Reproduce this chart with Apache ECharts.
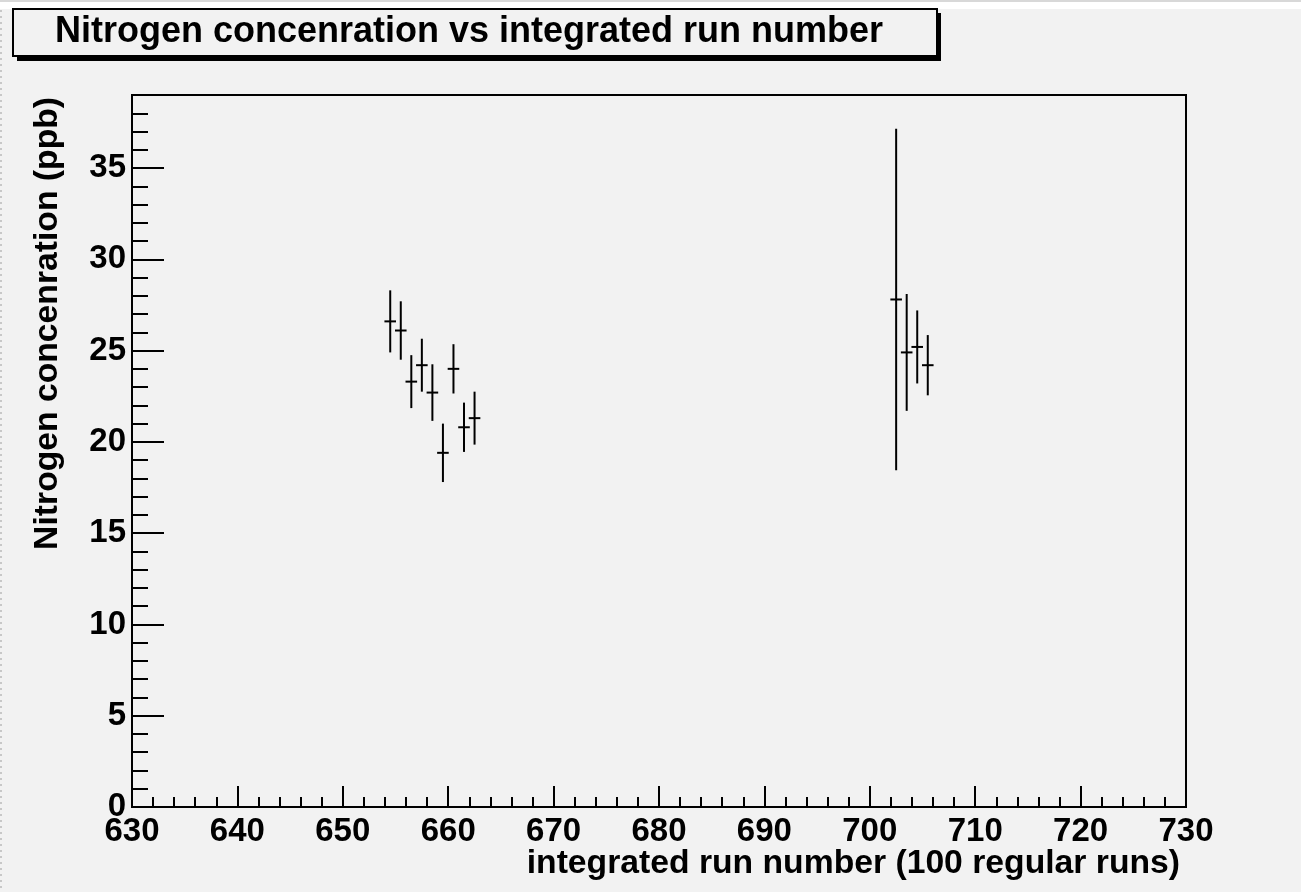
<!DOCTYPE html>
<html>
<head>
<meta charset="utf-8">
<script src="https://cdn.jsdelivr.net/npm/echarts@6/dist/echarts.min.js"></script>
<style>
  html, body { margin: 0; padding: 0; background: #f2f2f2; }
  #chart { width: 1301px; height: 892px; }
</style>
</head>
<body>
<div id="chart"></div>
<script>
// ---- data ----
const chartTitle = 'Nitrogen concenration vs integrated run number';
const xTitle = 'integrated run number (100 regular runs)';
const yTitle = 'Nitrogen concenration (ppb)';

const runNumbers = [654.5, 655.5, 656.5, 657.5, 658.5, 659.5, 660.5, 661.5, 662.5,
                    702.5, 703.5, 704.5, 705.5];
const concentrations = [26.6, 26.1, 23.3, 24.2, 22.7, 19.4, 24.0, 20.8, 21.3,
                        27.8, 24.9, 25.2, 24.2];
const concErrors = [1.7, 1.6, 1.45, 1.45, 1.55, 1.6, 1.35, 1.35, 1.45,
                    9.35, 3.2, 2.0, 1.65];
const runErrors = [0.55, 0.55, 0.55, 0.55, 0.55, 0.55, 0.55, 0.55, 0.55,
                   0.55, 0.55, 0.55, 0.55];

const xMin = 630, xMax = 730, xStep = 10;
const yMin = 0, yMax = 39, yStep = 5, yMinorStep = 1;
const yMajorTicks = [0, 5, 10, 15, 20, 25, 30, 35];

// ---- chart ----
const FONT = '"Liberation Sans", Arial, Helvetica, sans-serif';
const chart = echarts.init(document.getElementById('chart'), null, { renderer: 'canvas' });

const seriesData = runNumbers.map((x, i) => [x, concentrations[i], concErrors[i], runErrors[i]]);

const option = {
  backgroundColor: '#f2f2f2',
  animation: false,
  grid: {
    left: 132, right: 115, top: 95, bottom: 85,
    show: true, borderColor: '#000', borderWidth: 2, backgroundColor: 'transparent'
  },
  xAxis: [{
    type: 'value', min: xMin, max: xMax, interval: xStep, position: 'bottom',
    axisLine: { show: true, onZero: false, lineStyle: { color: '#000', width: 2 } },
    axisTick: { show: true, inside: true, length: 21, lineStyle: { color: '#000', width: 2 } },
    minorTick: { show: true, splitNumber: 5, length: 10, lineStyle: { color: '#000', width: 2 } },
    axisLabel: { show: true, margin: 8, color: '#000', fontFamily: FONT, fontWeight: 'bold', fontSize: 33 },
    splitLine: { show: false }
  }],
  yAxis: [{
    type: 'value', min: yMin, max: yMax, interval: yMinorStep, position: 'left',
    axisLine: { show: true, onZero: false, lineStyle: { color: '#000', width: 2 } },
    axisTick: { show: true, inside: true, length: 16, lineStyle: { color: '#000', width: 2 } },
    axisLabel: { show: false },
    splitLine: { show: false }
  }, {
    type: 'value', min: yMin, max: yMax, interval: yStep, position: 'left',
    axisLine: { show: false, onZero: false },
    axisTick: { show: true, inside: true, length: 32, customValues: yMajorTicks,
                lineStyle: { color: '#000', width: 2 } },
    axisLabel: { show: true, margin: 6, customValues: yMajorTicks,
                 color: '#000', fontFamily: FONT, fontWeight: 'bold', fontSize: 33 },
    splitLine: { show: false }
  }],
  graphic: [
    { type: 'rect', shape: { x: 0, y: 0, width: 1301, height: 2 }, style: { fill: '#d8d8d8' }, silent: true },
    { type: 'rect', shape: { x: 0, y: 2, width: 1301, height: 7 }, style: { fill: '#ffffff' }, silent: true },
    { type: 'line', shape: { x1: 1, y1: 10, x2: 1, y2: 892 }, style: { stroke: '#c8c8c8', lineWidth: 2, lineDash: [2, 4] }, silent: true },
    // title box shadow
    { type: 'rect', shape: { x: 17, y: 13, width: 924, height: 48 }, style: { fill: '#000' }, silent: true },
    // title box
    { type: 'rect', shape: { x: 13, y: 9, width: 924, height: 47 }, style: { fill: '#f2f2f2', stroke: '#000', lineWidth: 2 }, silent: true },
    { type: 'text', x: 55, y: 32, silent: true,
      style: { text: chartTitle, fill: '#000', font: 'bold 36px ' + FONT, align: 'left', verticalAlign: 'middle' } },
    { type: 'text', x: 1180, y: 864, silent: true,
      style: { text: xTitle, fill: '#000', font: 'bold 33.7px ' + FONT, align: 'right', verticalAlign: 'middle' } },
    { type: 'text', x: 48, y: 97, rotation: Math.PI / 2, silent: true,
      style: { text: yTitle, fill: '#000', font: 'bold 33.7px ' + FONT, align: 'right', verticalAlign: 'middle' } }
  ],
  series: [{
    type: 'custom',
    xAxisIndex: 0, yAxisIndex: 0,
    data: seriesData,
    renderItem: function (params, api) {
      const x = api.value(0), y = api.value(1), ey = api.value(2), ex = api.value(3);
      const top = api.coord([x, y + ey]);
      const bot = api.coord([x, y - ey]);
      const l = api.coord([x - ex, y]);
      const r = api.coord([x + ex, y]);
      const st = { stroke: '#000', lineWidth: 2 };
      return {
        type: 'group',
        children: [
          { type: 'line', shape: { x1: top[0], y1: top[1], x2: bot[0], y2: bot[1] }, style: st },
          { type: 'line', shape: { x1: l[0], y1: l[1], x2: r[0], y2: r[1] }, style: st }
        ]
      };
    }
  }]
};
chart.setOption(option);
</script>
</body>
</html>
